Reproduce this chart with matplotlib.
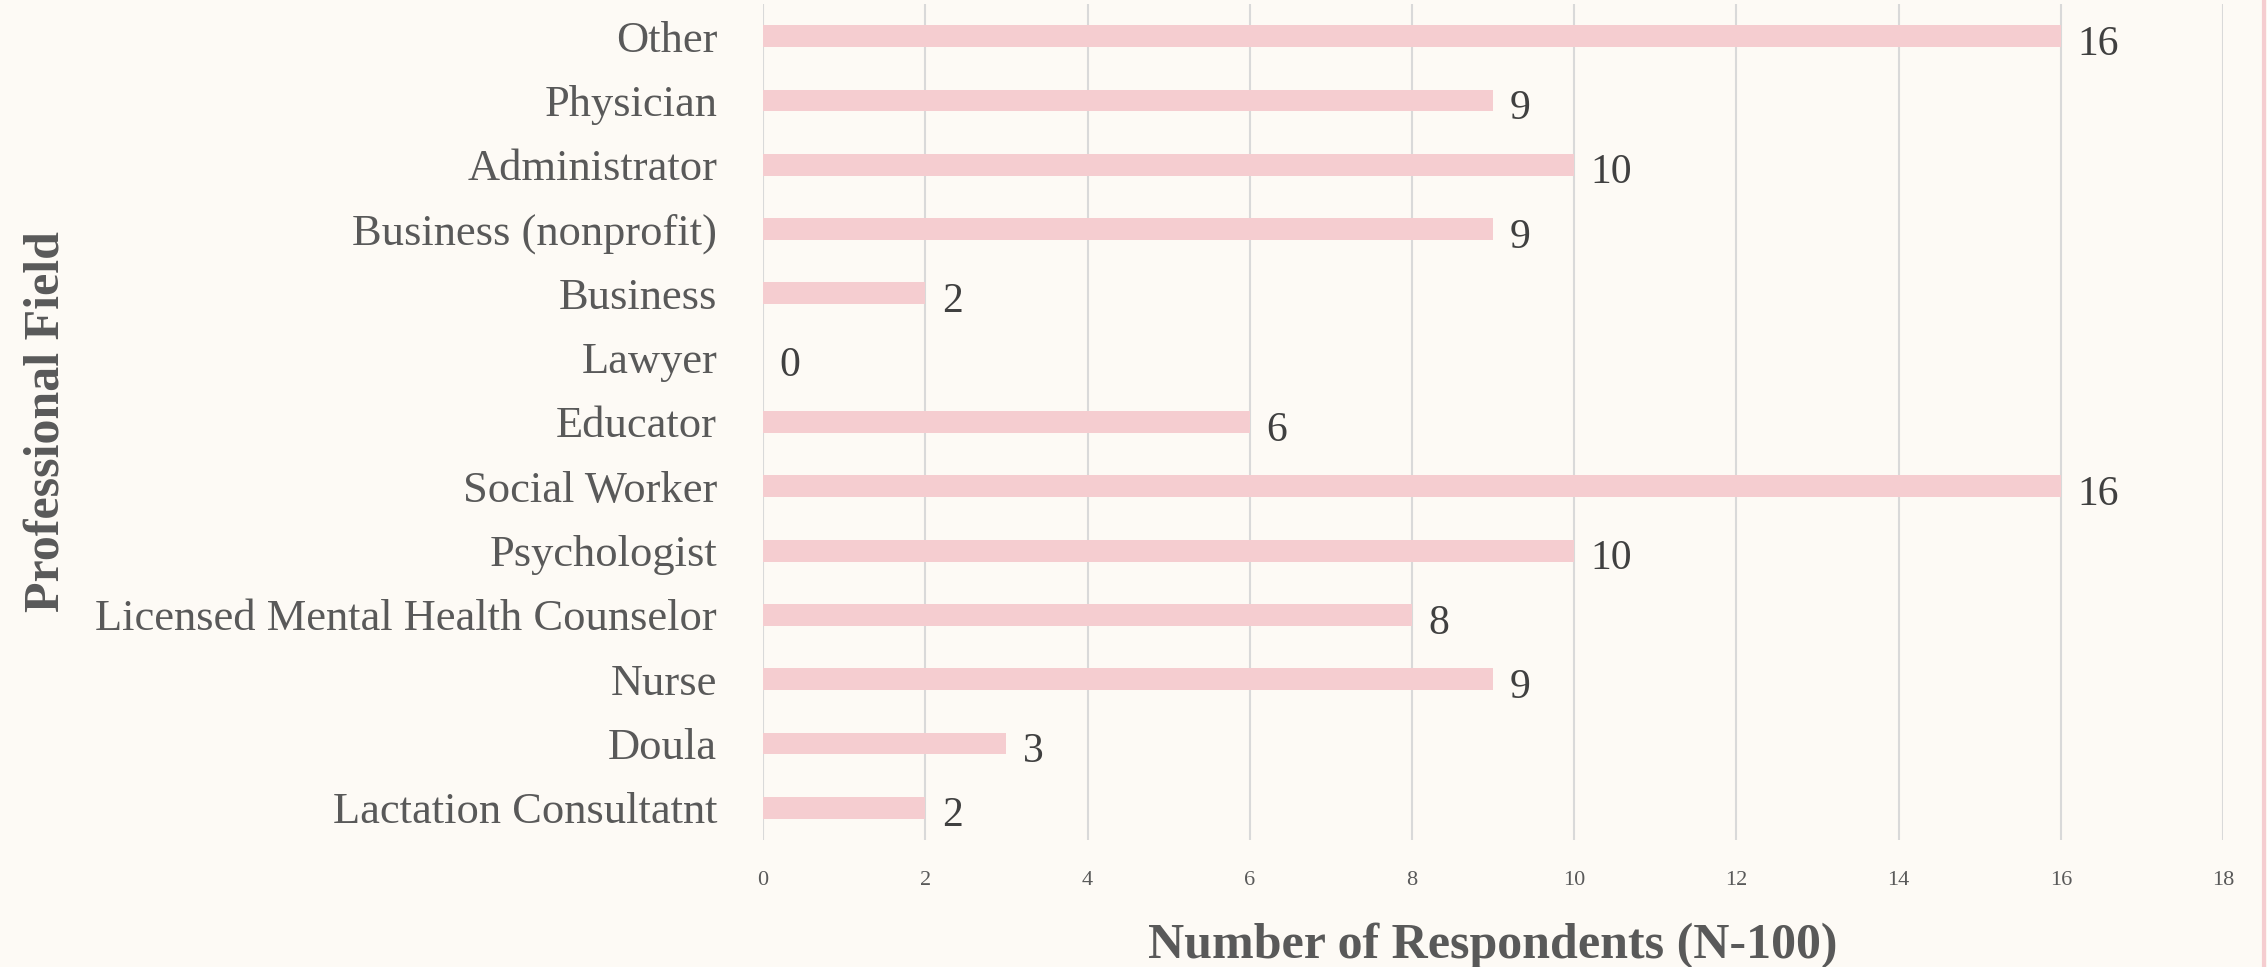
import matplotlib
matplotlib.use("Agg")
import matplotlib.pyplot as plt
from matplotlib.lines import Line2D

# ------------------ Datos ------------------
fields = ["Lactation Consultatnt", "Doula", "Nurse", "Licensed Mental Health Counselor",
          "Psychologist", "Social Worker", "Educator", "Lawyer", "Business",
          "Business (nonprofit)", "Administrator", "Physician", "Other"]
counts = [2, 3, 9, 8, 10, 16, 6, 0, 2, 9, 10, 9, 16]
xticks = [0, 2, 4, 6, 8, 10, 12, 14, 16, 18]

bg = "#fdfaf5"
bar_col = "#f5cdd0"
txt_col = "#595959"
val_col = "#404040"

plt.rcParams['font.family'] = ['Liberation Serif', 'DejaVu Serif']

fig = plt.figure(figsize=(22.67, 9.67), dpi=100, facecolor=bg)
ax = fig.add_axes([0.3366, 0.1313, 0.6440, 0.8646])
ax.set_facecolor(bg)

ypos = list(range(len(fields)))
ax.barh(ypos, counts, height=0.34, color=bar_col, zorder=2)

# Etiquetas de valor
for y, v in zip(ypos, counts):
    ax.annotate(str(v), (v, y), xytext=(12, -6), textcoords="offset points",
                ha="left", va="center", fontsize=30, color=val_col)

ax.set_xlim(0, 18)
ax.set_ylim(-0.5, len(fields) - 0.5)
ax.set_xticks(xticks)
ax.set_xticklabels([str(t) for t in xticks], fontsize=16, color=txt_col)
ax.set_yticks(ypos)
ax.set_yticklabels(fields, fontsize=32, color=txt_col)
ax.tick_params(axis="x", length=0, pad=22)
ax.tick_params(axis="y", length=0, pad=33)

ax.grid(axis="x", color="#d9d9d9", linewidth=1.5, zorder=0)
ax.grid(axis="y", visible=False)
for s in ax.spines.values():
    s.set_visible(False)

ax.set_xlabel("Number of Respondents (N-100)", fontsize=36, fontweight="bold",
              color=txt_col, labelpad=24)
ax.set_ylabel("Professional Field", fontsize=36, fontweight="bold",
              color=txt_col)
ax.yaxis.set_label_coords(-0.475, 0.5)

# Borde rosa a la derecha
fig.add_artist(Line2D([0.9987, 0.9987], [0, 1], transform=fig.transFigure,
                      color=bar_col, linewidth=3))

fig.savefig("out.png", dpi=100, facecolor=bg)
